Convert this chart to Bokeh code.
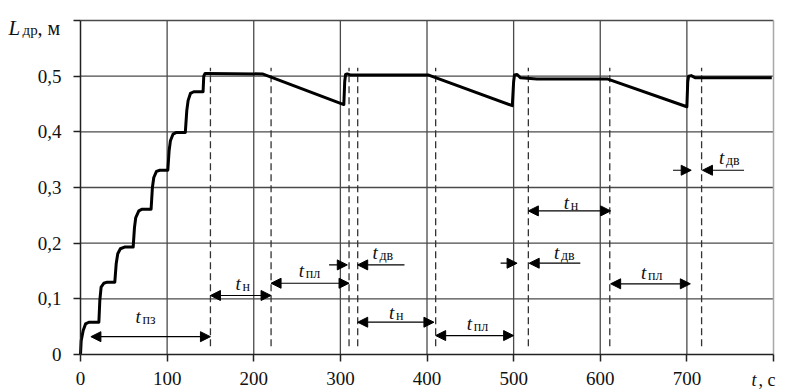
from bokeh.plotting import figure
from bokeh.models import FixedTicker, Arrow, NormalHead, Label, ColumnDataSource, Range1d
from bokeh.embed import file_html
from bokeh.resources import INLINE

# ---- data ----
t_vals = [0, 0.8, 3.1, 5.8, 9.6, 21.2, 22.3, 23.8, 26.9, 30.8, 39.6, 41.2, 43, 46, 50.8,
          60.8, 62.3, 63.8, 67.3, 71.2, 81.5, 83, 84.6, 87.7, 91.5, 100.8, 102.3, 103.8,
          106.9, 110.8, 121, 122.7, 124.2, 126.9, 130.8, 141.5, 142.3, 143.8, 146,
          210, 304, 305, 306, 308, 312, 402, 498.5, 500, 501, 504, 508, 527, 608,
          700, 701, 702, 705, 710, 798]
L_vals = [0, 0.025, 0.043, 0.055, 0.058, 0.058, 0.097, 0.121, 0.128, 0.13, 0.13, 0.163,
          0.181, 0.19, 0.193, 0.193, 0.228, 0.246, 0.258, 0.261, 0.261, 0.30, 0.318,
          0.329, 0.331, 0.331, 0.366, 0.384, 0.396, 0.399, 0.399, 0.438, 0.456, 0.469,
          0.472, 0.472, 0.50, 0.505, 0.505,
          0.504, 0.449, 0.49, 0.503, 0.504, 0.502, 0.502, 0.447, 0.49, 0.502, 0.503,
          0.497, 0.495, 0.495, 0.445, 0.49, 0.50, 0.501, 0.497, 0.497]

x_ticks = [0, 100, 200, 300, 400, 500, 600, 700, 800]
x_tick_labels = ["0", "100", "200", "300", "400", "500", "600", "700", ""]
y_ticks = [0, 0.1, 0.2, 0.3, 0.4, 0.5, 0.6]
y_tick_labels = ["0", "0,1", "0,2", "0,3", "0,4", "0,5", ""]

dash_t = [150, 220, 310, 320, 410, 517, 611, 717]
dash_lo = [0.015] * len(dash_t)
dash_hi = [0.515] * len(dash_t)

dbl_x0 = [12, 150, 220, 320, 410, 517, 612]
dbl_x1 = [150, 220, 310, 408, 500, 612, 704]
dbl_y = [0.032, 0.106, 0.128, 0.058, 0.034, 0.258, 0.127]

sgl_x0 = [287, 374, 485, 577, 684, 766]
sgl_x1 = [308, 320, 504, 518, 705, 718]
sgl_y = [0.161, 0.161, 0.164, 0.164, 0.331, 0.331]

lab_t = [63.5, 179, 252, 337, 356, 446, 546.5, 558, 647, 737]
lab_y = [0.068, 0.127, 0.151, 0.1835, 0.076, 0.055, 0.1835, 0.273, 0.148, 0.354]
lab_sub = ["пз", "н", "пл", "дв", "н", "пл", "дв", "н", "пл", "дв"]

y_title_main, y_title_sub, y_title_unit = "L", "др", ", м"
x_title_main, x_title_unit = "t", ", с"

FONT = "Liberation Serif"
INK = "#111111"

# plot box in page pixels (the frame covers the whole canvas; axes sit at data 0)
W, H = 785, 392
LEFT, RIGHT, TOP, BOTTOM = 80, 773, 20, 354
x0, x1 = x_ticks[0], x_ticks[-1]
y0, y1 = y_ticks[0], y_ticks[-1]
sx = (RIGHT - LEFT) / (x1 - x0)
sy = (BOTTOM - TOP) / (y1 - y0)
xr = Range1d(x0 - LEFT / sx, x1 + (W - RIGHT) / sx)
yr = Range1d(y0 - (H - BOTTOM) / sy, y1 + TOP / sy)

p = figure(width=W, height=H, output_backend="svg", toolbar_location=None,
           x_range=xr, y_range=yr,
           min_border_left=0, min_border_right=0, min_border_top=0, min_border_bottom=0)
p.background_fill_color = "white"
p.border_fill_color = "white"
p.outline_line_color = None
p.grid.visible = False

for ax in (p.xaxis[0], p.yaxis[0]):
    ax.fixed_location = 0
    ax.axis_line_color = "#222222"
    ax.axis_line_width = 1.5
    ax.major_tick_line_color = "#222222"
    ax.major_tick_line_width = 1.5
    ax.major_tick_out = 7
    ax.major_tick_in = 0
    ax.minor_tick_line_color = None
    ax.major_label_text_font = FONT
    ax.major_label_text_font_size = "19px"
    ax.major_label_text_color = INK

p.xaxis.ticker = FixedTicker(ticks=x_ticks)
p.xaxis.major_label_overrides = dict(zip(x_ticks, x_tick_labels))
p.xaxis.major_label_standoff = 10
p.xaxis.bounds = (x0, x1)
p.yaxis.ticker = FixedTicker(ticks=y_ticks)
p.yaxis.major_label_overrides = dict(zip(y_ticks, y_tick_labels))
p.yaxis.major_label_standoff = 12
p.yaxis.bounds = (y0, y1)

# grid lines at the tick positions, limited to the plot box
gx = x_ticks[1:-1]
p.segment(x0=gx, y0=[y0] * len(gx), x1=gx, y1=[y1] * len(gx),
          line_color="#4a4a4a", line_width=1.3)
gy = y_ticks[1:]
p.segment(x0=[x0] * len(gy), y0=gy, x1=[x1] * len(gy), y1=gy,
          line_color="#4a4a4a", line_width=1.3)
p.segment(x0=[x1], y0=[y0], x1=[x1], y1=[y1], line_color="#a8a8a8", line_width=1.5)

p.segment(x0=dash_t, y0=dash_lo, x1=dash_t, y1=dash_hi, line_color="#333333",
          line_width=1.3, line_dash="7 4")

p.line(t_vals, L_vals, line_color="black", line_width=3, line_join="round")

dsrc = ColumnDataSource(dict(x0=dbl_x0, x1=dbl_x1, y=dbl_y))
p.add_layout(Arrow(source=dsrc, x_start="x0", y_start="y", x_end="x1", y_end="y",
                   line_color="black", line_width=1.2,
                   start=NormalHead(size=10, fill_color="black", line_color="black"),
                   end=NormalHead(size=10, fill_color="black", line_color="black")))
ssrc = ColumnDataSource(dict(x0=sgl_x0, x1=sgl_x1, y=sgl_y))
p.add_layout(Arrow(source=ssrc, x_start="x0", y_start="y", x_end="x1", y_end="y",
                   line_color="black", line_width=1.2, start=None,
                   end=NormalHead(size=10, fill_color="black", line_color="black")))

for tx, ty, sub in zip(lab_t, lab_y, lab_sub):
    p.add_layout(Label(x=tx, y=ty, text="t", text_font=FONT, text_font_style="italic",
                       text_font_size="19px", text_baseline="middle", text_align="left",
                       text_color=INK))
    p.add_layout(Label(x=tx, y=ty, x_offset=7, y_offset=-3, text=sub, text_font=FONT,
                       text_font_size="14px", text_baseline="middle", text_align="left",
                       text_color=INK))

# axis titles
p.add_layout(Label(x=x0, y=y1, x_offset=-72, y_offset=-7, text=y_title_main, text_font=FONT,
                   text_font_style="italic", text_font_size="21px",
                   text_baseline="alphabetic", text_align="left", text_color=INK))
p.add_layout(Label(x=x0, y=y1, x_offset=-58, y_offset=-9, text=y_title_sub, text_font=FONT,
                   text_font_size="15px", text_baseline="alphabetic", text_align="left",
                   text_color=INK))
p.add_layout(Label(x=x0, y=y1, x_offset=-43, y_offset=-7, text=y_title_unit, text_font=FONT,
                   text_font_style="normal", text_font_size="20px",
                   text_baseline="alphabetic", text_align="left", text_color=INK))
p.add_layout(Label(x=x1, y=y0, x_offset=-22, y_offset=-25, text=x_title_main, text_font=FONT,
                   text_font_style="italic", text_font_size="18px",
                   text_baseline="alphabetic", text_align="left", text_color=INK))
p.add_layout(Label(x=x1, y=y0, x_offset=-15, y_offset=-25, text=x_title_unit, text_font=FONT,
                   text_font_size="18px", text_baseline="alphabetic", text_align="left",
                   text_color=INK))

open("out.html", "w").write(file_html(p, INLINE))
